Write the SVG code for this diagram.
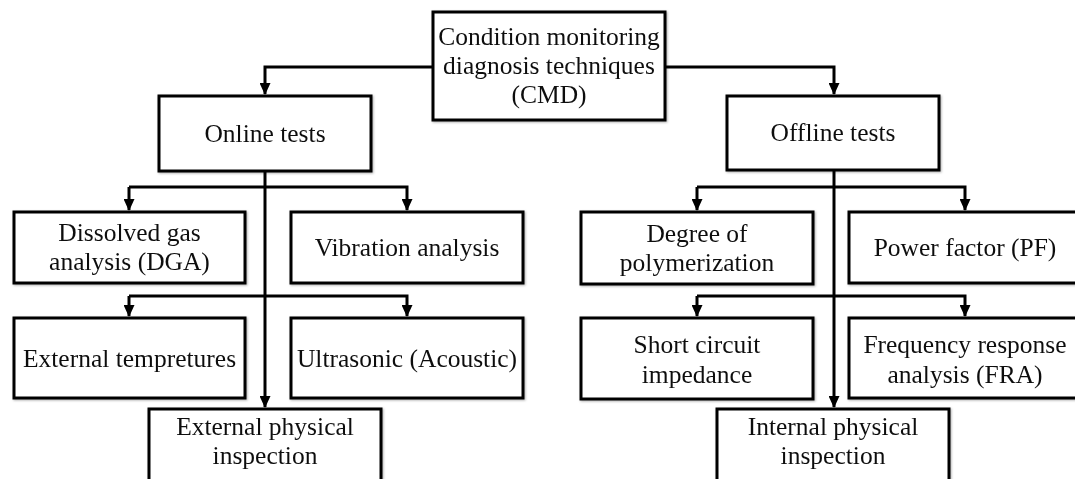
<svg xmlns="http://www.w3.org/2000/svg" width="1075" height="479" viewBox="0 0 1075 479">
<style>
.box{fill:#fff;stroke:#000;stroke-width:3}
.t{font-family:"Liberation Serif","Times New Roman",serif;font-size:25.5px;fill:#111;text-anchor:middle}
.c{fill:none;stroke:#000;stroke-width:3}
</style>
<defs>
<marker id="ah" viewBox="0 0 12 11" refX="11" refY="5.5" markerWidth="12" markerHeight="11" markerUnits="userSpaceOnUse" orient="auto">
<path d="M0,0 L12,5.5 L0,11 Z" fill="#000"/>
</marker>
<filter id="sh" x="-5%" y="-5%" width="110%" height="115%">
<feDropShadow dx="1" dy="1" stdDeviation="1" flood-color="#000" flood-opacity="0.3"/>
</filter>
</defs>
<rect width="1075" height="479" fill="#fff"/>
<g id="connectors">
<path class="c" d="M433,67 H265 V94" marker-end="url(#ah)"/>
<path class="c" d="M665,67 H834 V94" marker-end="url(#ah)"/>
<path class="c" d="M265,171 V407" marker-end="url(#ah)"/>
<path class="c" d="M129,187 H407 V210" marker-end="url(#ah)"/>
<path class="c" d="M129,187 V210" marker-end="url(#ah)"/>
<path class="c" d="M129,296 H407 V316" marker-end="url(#ah)"/>
<path class="c" d="M129,296 V316" marker-end="url(#ah)"/>
<path class="c" d="M834,170 V407" marker-end="url(#ah)"/>
<path class="c" d="M697,187 H965 V210" marker-end="url(#ah)"/>
<path class="c" d="M697,187 V210" marker-end="url(#ah)"/>
<path class="c" d="M697,296 H965 V316" marker-end="url(#ah)"/>
<path class="c" d="M697,296 V316" marker-end="url(#ah)"/>
</g>
<g id="cmd" filter="url(#sh)"><rect class="box" x="433" y="12" width="232" height="108"/>
<text class="t" x="549" y="45">Condition monitoring</text>
<text class="t" x="549" y="74">diagnosis techniques</text>
<text class="t" x="549" y="103">(CMD)</text></g>
<g id="online" filter="url(#sh)"><rect class="box" x="159" y="96" width="212" height="75"/>
<text class="t" x="265" y="142">Online tests</text></g>
<g id="offline" filter="url(#sh)"><rect class="box" x="727" y="96" width="212" height="74"/>
<text class="t" x="833" y="141">Offline tests</text></g>
<g id="dga" filter="url(#sh)"><rect class="box" x="14" y="212" width="231" height="71"/>
<text class="t" x="129.5" y="241">Dissolved gas</text>
<text class="t" x="129.5" y="270">analysis (DGA)</text></g>
<g id="vibration" filter="url(#sh)"><rect class="box" x="291" y="212" width="232" height="71"/>
<text class="t" x="407" y="256">Vibration analysis</text></g>
<g id="exttemp" filter="url(#sh)"><rect class="box" x="14" y="318" width="231" height="80"/>
<text class="t" x="129.5" y="367">External tempretures</text></g>
<g id="ultrasonic" filter="url(#sh)"><rect class="box" x="291" y="318" width="232" height="80"/>
<text class="t" x="407" y="367">Ultrasonic (Acoustic)</text></g>
<g id="extphys" filter="url(#sh)"><rect class="box" x="149" y="409" width="232" height="80"/>
<text class="t" x="265" y="435">External physical</text>
<text class="t" x="265" y="464">inspection</text></g>
<g id="dp" filter="url(#sh)"><rect class="box" x="581" y="212" width="232" height="72"/>
<text class="t" x="697" y="242">Degree of</text>
<text class="t" x="697" y="271">polymerization</text></g>
<g id="pf" filter="url(#sh)"><rect class="box" x="849" y="212" width="232" height="71"/>
<text class="t" x="965" y="256">Power factor (PF)</text></g>
<g id="sci" filter="url(#sh)"><rect class="box" x="581" y="318" width="232" height="81"/>
<text class="t" x="697" y="353">Short circuit</text>
<text class="t" x="697" y="383">impedance</text></g>
<g id="fra" filter="url(#sh)"><rect class="box" x="849" y="318" width="232" height="80"/>
<text class="t" x="965" y="353">Frequency response</text>
<text class="t" x="965" y="383">analysis (FRA)</text></g>
<g id="intphys" filter="url(#sh)"><rect class="box" x="717" y="409" width="232" height="80"/>
<text class="t" x="833" y="435">Internal physical</text>
<text class="t" x="833" y="464">inspection</text></g>
</svg>
